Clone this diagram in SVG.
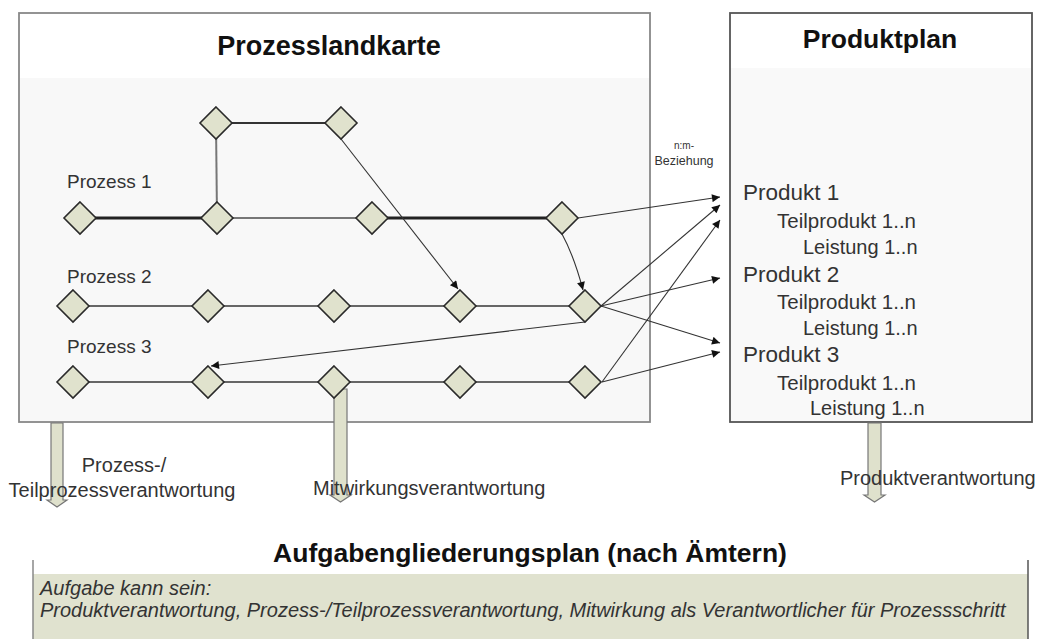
<svg xmlns="http://www.w3.org/2000/svg" width="1041" height="639" viewBox="0 0 1041 639">
<defs>
<style>
.t{font-family:"Liberation Sans",Arial,sans-serif;fill:#333}
.title{font-family:"Liberation Sans",Arial,sans-serif;font-weight:bold;fill:#111}
.dia{fill:#e0e2cd;stroke:#2a2a2a;stroke-width:1.6}
.con{fill:none;stroke:#444;stroke-width:1}
.arr{fill:none;stroke:#333;stroke-width:1.1;marker-end:url(#ah)}
.blk{fill:#dfe1cc;stroke:#777;stroke-width:1.2}
</style>
<marker id="ah" viewBox="0 0 10 10" refX="10" refY="5" markerWidth="10" markerHeight="8" markerUnits="userSpaceOnUse" orient="auto">
<path d="M0,0 L10,5 L0,10 z" fill="#111"/>
</marker>
<path id="dm" d="M0,-16 L16,0 L0,16 L-16,0 z"/>
</defs>
<rect width="1041" height="639" fill="#fff"/>

<g id="prozesslandkarte">
<rect x="19" y="78" width="631" height="344" fill="#f8f8f8"/>
<rect x="19" y="13" width="631" height="409" fill="none" stroke="#888" stroke-width="1.8"/>
<text class="title" x="329" y="55" font-size="27" text-anchor="middle">Prozesslandkarte</text>
<text class="t" x="67" y="188" font-size="19">Prozess 1</text>
<text class="t" x="67" y="283" font-size="19">Prozess 2</text>
<text class="t" x="67" y="353" font-size="19">Prozess 3</text>
</g>

<g id="produktplan">
<rect x="730" y="68" width="302" height="354" fill="#f9f9f9"/>
<rect x="730" y="13" width="302" height="409" fill="none" stroke="#555" stroke-width="1.8"/>
<text class="title" x="880" y="48" font-size="26.5" text-anchor="middle">Produktplan</text>
<text class="t" x="743" y="200" font-size="22.5">Produkt 1</text>
<text class="t" x="777" y="228" font-size="20.5">Teilprodukt 1..n</text>
<text class="t" x="803" y="254" font-size="20">Leistung 1..n</text>
<text class="t" x="743" y="282" font-size="22.5">Produkt 2</text>
<text class="t" x="777" y="309" font-size="20.5">Teilprodukt 1..n</text>
<text class="t" x="803" y="335" font-size="20">Leistung 1..n</text>
<text class="t" x="743" y="362" font-size="22.5">Produkt 3</text>
<text class="t" x="777" y="390" font-size="20.5">Teilprodukt 1..n</text>
<text class="t" x="810" y="415" font-size="20">Leistung 1..n</text>
</g>

<g id="connectors">
<line x1="80" y1="218" x2="217" y2="218" stroke="#222" stroke-width="3"/>
<line x1="217" y1="218" x2="372" y2="218" stroke="#777" stroke-width="2"/>
<line x1="372" y1="218" x2="562" y2="218" stroke="#222" stroke-width="3"/>
<line x1="216" y1="123" x2="341" y2="123" stroke="#333" stroke-width="2"/>
<line x1="216" y1="123" x2="217" y2="218" stroke="#777" stroke-width="2"/>
<line x1="73" y1="306" x2="585" y2="306" stroke="#666" stroke-width="2"/>
<line x1="73" y1="382" x2="585" y2="382" stroke="#666" stroke-width="2"/>
<path class="arr" d="M341,139 L458,289" stroke="#666"/>
<path class="arr" d="M562,234 Q574,256 583,290"/>
<path class="arr" d="M585,322 L211,366"/>
<path class="arr" d="M578,218 L720,197"/>
<path class="arr" d="M601,306 L720,205"/>
<path class="arr" d="M602,382 L720,220"/>
<path class="arr" d="M601,306 L720,278"/>
<path class="arr" d="M601,306 L720,343"/>
<path class="arr" d="M602,382 L720,352"/>
<path class="blk" d="M51,423 L63,423 L63,500 L67,500 L57,507 L47,500 L51,500 z"/>
<path class="blk" d="M334,389 L347,389 L347,495 L351,495 L340.5,502 L330,495 L334,495 z"/>
<path class="blk" d="M868,423 L881,423 L881,495 L885,495 L874.5,502 L864,495 L868,495 z"/>
<text class="t" x="684" y="149" font-size="10" text-anchor="middle" fill="#666">n:m-</text>
<text class="t" x="684" y="165" font-size="12.5" text-anchor="middle" fill="#666">Beziehung</text>
</g>

<g id="labels">
<text class="t" x="124" y="472" font-size="20" text-anchor="middle">Prozess-/</text>
<text class="t" x="122" y="497" font-size="20" text-anchor="middle">Teilprozessverantwortung</text>
<text class="t" x="313" y="495" font-size="20">Mitwirkungsverantwortung</text>
<text class="t" x="840" y="485" font-size="20">Produktverantwortung</text>
</g>

<g id="aufgabengliederungsplan">
<rect x="33" y="574" width="995" height="70" fill="#e0e2cf"/>
<line x1="33" y1="560" x2="33" y2="639" stroke="#888" stroke-width="1.5"/>
<line x1="1028" y1="560" x2="1028" y2="639" stroke="#555" stroke-width="1.5"/>
<text class="title" x="530" y="562" font-size="26.5" text-anchor="middle">Aufgabengliederungsplan (nach Ämtern)</text>
<text class="t" x="40" y="595" font-size="20" font-style="italic">Aufgabe kann sein:</text>
<text class="t" x="40" y="617" font-size="20" font-style="italic">Produktverantwortung, Prozess-/Teilprozessverantwortung, Mitwirkung als Verantwortlicher für Prozessschritt</text>
</g>

<g id="nodes">
<use href="#dm" class="dia" x="216" y="123"/>
<use href="#dm" class="dia" x="341" y="123"/>
<use href="#dm" class="dia" x="80" y="218"/>
<use href="#dm" class="dia" x="217" y="218"/>
<use href="#dm" class="dia" x="372" y="218"/>
<use href="#dm" class="dia" x="562" y="218"/>
<use href="#dm" class="dia" x="73" y="306"/>
<use href="#dm" class="dia" x="208" y="306"/>
<use href="#dm" class="dia" x="334" y="306"/>
<use href="#dm" class="dia" x="460" y="306"/>
<use href="#dm" class="dia" x="585" y="306"/>
<use href="#dm" class="dia" x="73" y="382"/>
<use href="#dm" class="dia" x="208" y="382"/>
<use href="#dm" class="dia" x="334" y="382"/>
<use href="#dm" class="dia" x="460" y="382"/>
<use href="#dm" class="dia" x="585" y="382"/>
</g>
</svg>
